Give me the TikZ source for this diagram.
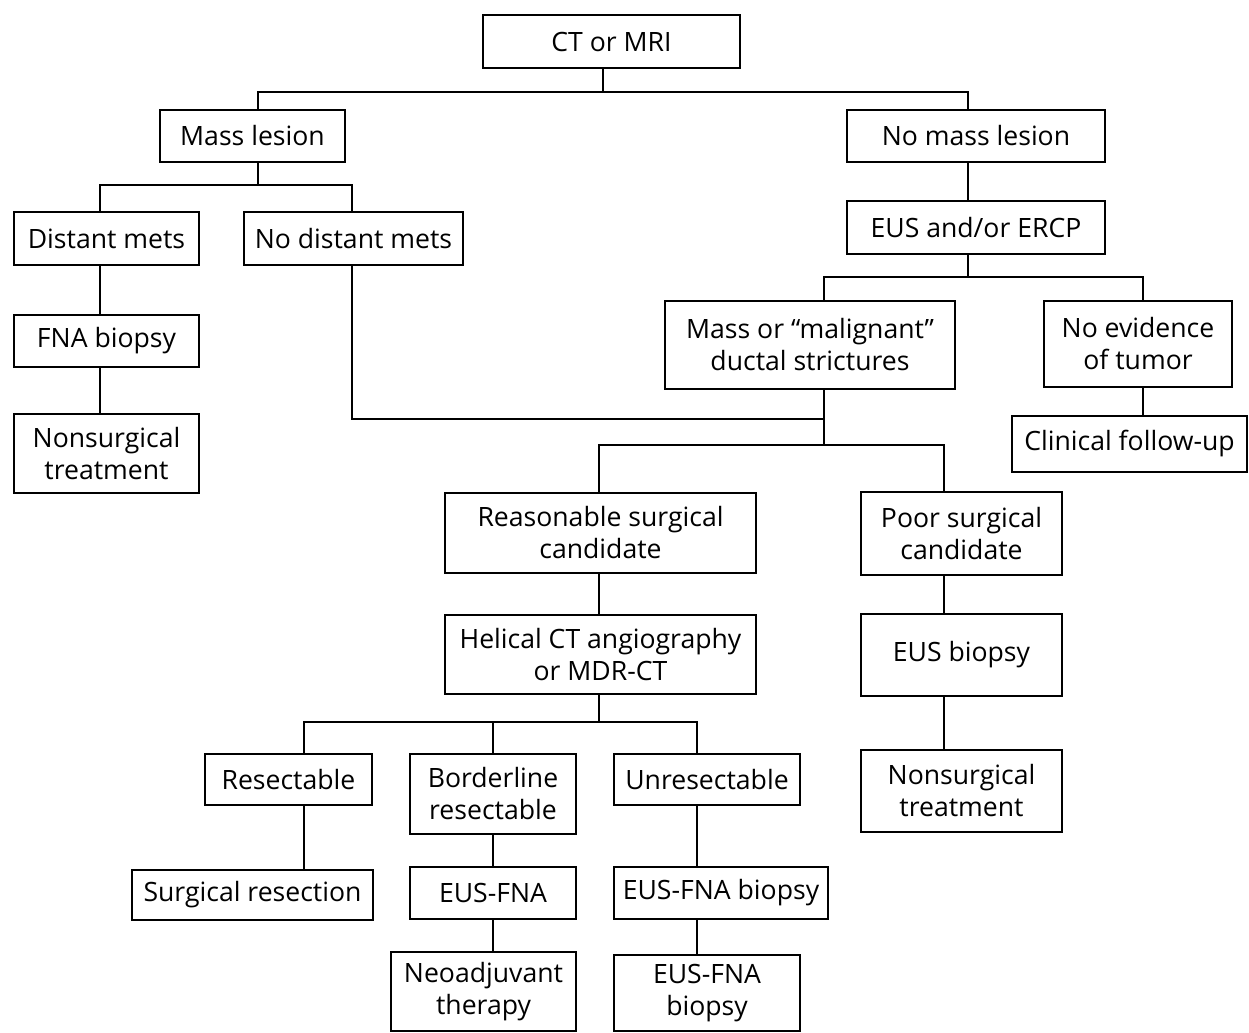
\documentclass[tikz,border=0pt]{standalone}
\usepackage{fontspec}
\setmainfont{Open Sans}
\tikzset{
  box/.style={draw, line width=1.15pt, align=center, inner sep=0pt, fill=white,
              font=\fontsize{13.3}{16}\selectfont},
  conn/.style={line width=1.15pt, line join=miter},
}
\begin{document}
\begin{tikzpicture}[x=0.5pt,y=-0.5pt]
\useasboundingbox (0,0) rectangle (1249,1033);
% boxes
\node[box, minimum width=128.5pt, minimum height=26.5pt] (ct) at (611.5,41.5) {CT or MRI};
\node[box, minimum width=92.5pt, minimum height=26pt] (mass) at (252.5,136) {Mass lesion};
\node[box, minimum width=129pt, minimum height=26pt] (nomass) at (976,136) {No mass lesion};
\node[box, minimum width=92.5pt, minimum height=26.5pt] (dist) at (106.5,238.5) {Distant mets};
\node[box, minimum width=109.5pt, minimum height=26.5pt] (nodist) at (353.5,238.5) {No distant mets};
\node[box, minimum width=129pt, minimum height=26.5pt] (eus) at (976,227.5) {EUS and/or ERCP};
\node[box, minimum width=92.5pt, minimum height=26pt] (fna) at (106.5,341) {FNA biopsy};
\node[box, minimum width=145pt, minimum height=44pt] (malig) at (810,345) {Mass or “malignant”\\ductal strictures};
\node[box, minimum width=94pt, minimum height=43pt] (noev) at (1138,344) {No evidence\\of tumor};
\node[box, minimum width=92.5pt, minimum height=39.5pt] (nonsurgA) at (106.5,453.5) {Nonsurgical\\treatment};
\node[box, minimum width=117.5pt, minimum height=28pt] (clin) at (1129.5,444) {Clinical follow-up};
\node[box, minimum width=155.5pt, minimum height=40pt] (reas) at (600.5,533) {Reasonable surgical\\candidate};
\node[box, minimum width=100.5pt, minimum height=41.5pt] (poor) at (961.5,533.5) {Poor surgical\\candidate};
\node[box, minimum width=155.5pt, minimum height=39.5pt] (helical) at (600.5,654.5) {Helical CT angiography\\or MDR-CT};
\node[box, minimum width=100.5pt, minimum height=41pt] (eusbiop) at (961.5,655) {EUS biopsy};
\node[box, minimum width=83.5pt, minimum height=25.5pt] (resect) at (288.5,779.5) {Resectable};
\node[box, minimum width=83pt, minimum height=40pt] (border) at (493,794) {Borderline\\resectable};
\node[box, minimum width=93pt, minimum height=25.5pt] (unres) at (707,779.5) {Unresectable};
\node[box, minimum width=100.5pt, minimum height=41pt] (nonsurgB) at (961.5,791) {Nonsurgical\\treatment};
\node[box, minimum width=120.5pt, minimum height=25pt] (surgres) at (252.5,895) {Surgical resection};
\node[box, minimum width=83pt, minimum height=26pt] (eusfna) at (493,893) {EUS-FNA};
\node[box, minimum width=107pt, minimum height=26pt] (eusfnab) at (721,893) {EUS-FNA biopsy};
\node[box, minimum width=92.5pt, minimum height=39.5pt] (neo) at (483.5,991.5) {Neoadjuvant\\therapy};
\node[box, minimum width=93pt, minimum height=38pt] (eusfnabB) at (707,993) {EUS-FNA\\biopsy};
% junctions
\coordinate (hAL) at (258,92); \coordinate (hAC) at (603,92); \coordinate (hAR) at (968,92);
\coordinate (hBL) at (100,185); \coordinate (hBC) at (258,185); \coordinate (hBR) at (352,185);
\coordinate (hCL) at (352,419); \coordinate (hCR) at (824,419);
\coordinate (hDL) at (824,277); \coordinate (hDC) at (968,277); \coordinate (hDR) at (1143,277);
\coordinate (hEL) at (599,445); \coordinate (hEC) at (824,445); \coordinate (hER) at (944,445);
\coordinate (hFL) at (304,722); \coordinate (hFM) at (493,722); \coordinate (hFC) at (599,722); \coordinate (hFR) at (697,722);
% connectors
\draw[conn] (ct.south -| hAC) -- (hAC);
\draw[conn] (mass.north -| hAL) -- (hAL) -- (hAR) -- (nomass.north -| hAR);
\draw[conn] (mass.south -| hBC) -- (hBC);
\draw[conn] (dist.north -| hBL) -- (hBL) -- (hBR) -- (nodist.north -| hBR);
\draw[conn] (dist.south -| hBL) -- (fna.north -| hBL);
\draw[conn] (fna.south -| hBL) -- (nonsurgA.north -| hBL);
\draw[conn] (nodist.south -| hCL) -- (hCL) -- (hCR);
\draw[conn] (nomass.south -| hAR) -- (eus.north -| hAR);
\draw[conn] (eus.south -| hDC) -- (hDC);
\draw[conn] (malig.north -| hDL) -- (hDL) -- (hDR) -- (noev.north -| hDR);
\draw[conn] (noev.south -| hDR) -- (clin.north -| hDR);
\draw[conn] (malig.south -| hEC) -- (hEC);
\draw[conn] (reas.north -| hEL) -- (hEL) -- (hER) -- (poor.north -| hER);
\draw[conn] (reas.south -| hEL) -- (helical.north -| hEL);
\draw[conn] (poor.south -| hER) -- (eusbiop.north -| hER);
\draw[conn] (eusbiop.south -| hER) -- (nonsurgB.north -| hER);
\draw[conn] (helical.south -| hFC) -- (hFC);
\draw[conn] (resect.north -| hFL) -- (hFL) -- (hFR) -- (unres.north -| hFR);
\draw[conn] (hFM) -- (border.north -| hFM);
\draw[conn] (resect.south -| hFL) -- (surgres.north -| hFL);
\draw[conn] (border.south -| hFM) -- (eusfna.north -| hFM);
\draw[conn] (eusfna.south -| hFM) -- (neo.north -| hFM);
\draw[conn] (unres.south -| hFR) -- (eusfnab.north -| hFR);
\draw[conn] (eusfnab.south -| hFR) -- (eusfnabB.north -| hFR);
\end{tikzpicture}
\end{document}
